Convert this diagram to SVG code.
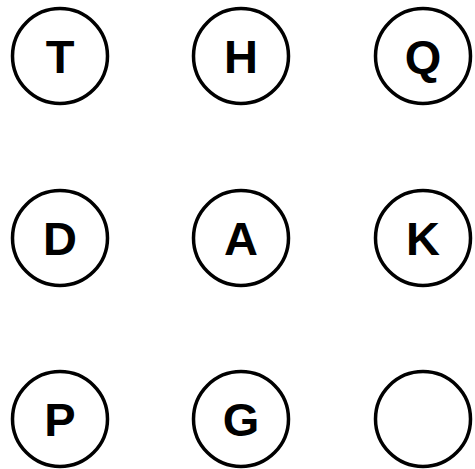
<svg xmlns="http://www.w3.org/2000/svg" width="475" height="469" viewBox="0 0 475 469">
<style>
circle{fill:#fff;stroke:#000;stroke-width:3.5}
text{font-family:"Liberation Sans",Arial,sans-serif;font-weight:bold;font-size:47px;text-anchor:middle;fill:#000}
</style>
<rect width="475" height="469" fill="#fff"/>
<g id="connectors"/>
<g id="T"><circle cx="60" cy="56" r="47.5"/><text x="60" y="73">T</text></g>
<g id="H"><circle cx="241" cy="56" r="47.5"/><text x="241" y="73">H</text></g>
<g id="Q"><circle cx="423" cy="56" r="47.5"/><text x="423" y="73">Q</text></g>
<g id="D"><circle cx="60" cy="238" r="47.5"/><text x="60" y="255">D</text></g>
<g id="A"><circle cx="241" cy="238" r="47.5"/><text x="241" y="255">A</text></g>
<g id="K"><circle cx="423" cy="238" r="47.5"/><text x="423" y="255">K</text></g>
<g id="P"><circle cx="60" cy="419" r="47.5"/><text x="60" y="436">P</text></g>
<g id="G"><circle cx="241" cy="419" r="47.5"/><text x="241" y="436">G</text></g>
<g id="empty"><circle cx="423" cy="419" r="47.5"/></g>
</svg>
